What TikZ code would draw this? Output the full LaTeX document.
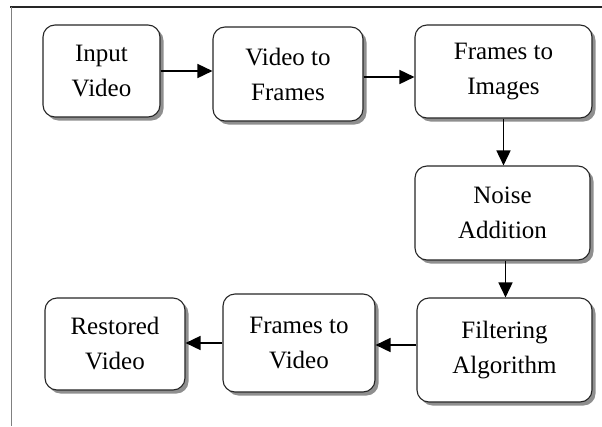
\documentclass[tikz,border=0pt]{standalone}
\usepackage{fontspec}
\setmainfont{Liberation Serif}
\usetikzlibrary{arrows.meta,shadows,calc}
\begin{document}
\begin{tikzpicture}[x=1pt,y=-1pt,
  stepbox/.style={draw=black!85,line width=1.1pt,rounded corners=12pt,fill=white,
    align=center,inner sep=0pt,
    font=\fontsize{25}{35}\selectfont,
    drop shadow={shadow xshift=3.5pt,shadow yshift=-3.5pt,fill=black!55,opacity=0.8}},
  flow/.style={line width=1.6pt,-{Triangle[length=15pt,width=14pt]}}]
\useasboundingbox (0,0) rectangle (602,426);
\draw[line width=1.4pt,black!85] (10,7) -- (602,7);
\draw[line width=0.8pt,black!50] (11,7) -- (11,426);
\newcommand{\mybox}[6]{%
  \node[stepbox,minimum width={#4-#2},minimum height={#5-#3}] (#1) at ({(#2+#4)/2},{(#3+#5)/2}) {#6};}
\mybox{iv}{43}{25}{160}{117}{Input\\Video}
\mybox{vf}{213}{27}{363}{121}{Video to\\Frames}
\mybox{fi}{415}{25}{592}{118}{Frames to\\Images}
\mybox{na}{415}{166}{590}{260}{Noise\\Addition}
\mybox{fa}{417}{298}{592}{402}{Filtering\\Algorithm}
\mybox{fv}{223}{294}{375}{392}{Frames to\\Video}
\mybox{rv}{45}{298}{185}{390}{Restored\\Video}
\draw[flow] (iv.east) -- (iv.east -| vf.west);
\draw[flow] ($(vf.east)+(0,3)$) -- ($(vf.east -| fi.west)+(0,3)$);
\draw[flow] (fi.south) -- (fi.south |- na.north);
\draw[flow] ($(na.south)+(3,0)$) -- ($(na.south |- fa.north)+(3,0)$);
\draw[flow] ($(fa.west)+(0,-5)$) -- ($(fa.west -| fv.east)+(0,-5)$);
\draw[flow] (fv.east -| fv.west) -- (fv.west -| rv.east);
\end{tikzpicture}
\end{document}
